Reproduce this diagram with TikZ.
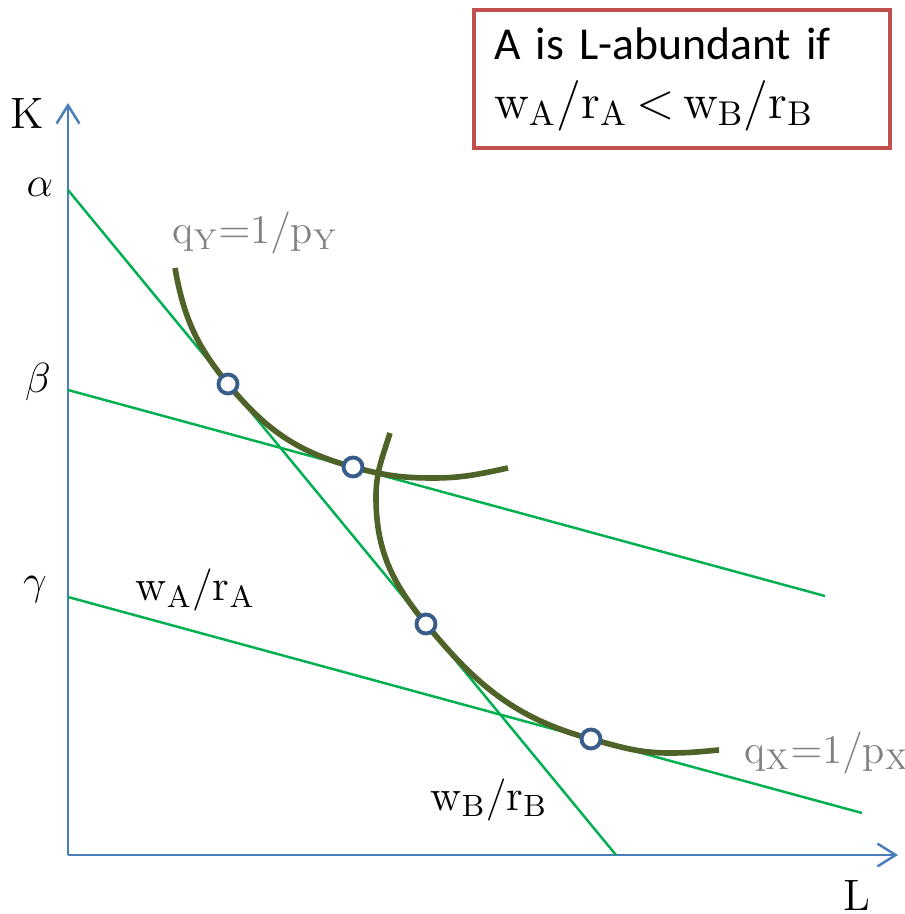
\documentclass[tikz,border=0pt,12pt]{standalone}
\usepackage{fontspec}
\newfontfamily\boxfont{Carlito}
\usepackage{tikz}
\usetikzlibrary{arrows.meta}
\definecolor{axisblue}{HTML}{4A7EBB}
\definecolor{budgetgreen}{HTML}{00B050}
\definecolor{isoolive}{HTML}{4F6228}
\definecolor{dotblue}{HTML}{385D8A}
\definecolor{boxred}{HTML}{C0504D}

\begin{document}
\begin{tikzpicture}[>={Straight Barb[length=5.2pt,width=6.5pt]},
  axis/.style={->, axisblue, line width=0.7pt},
  budget/.style={budgetgreen, line width=0.7pt},
  isoq/.style={isoolive, line width=1.6pt},
  tangency/.style={circle, draw=dotblue, fill=white, line width=1.1pt, inner sep=0pt, minimum size=0.19cm},
  lbl/.style={font=\fontsize{12.5}{15}\selectfont},
  qlbl/.style={text=gray, inner sep=0pt, anchor=base west, font=\fontsize{11.6}{14}\selectfont}]
  \useasboundingbox (-0.68,-0.59) rectangle (8.37,8.55);
  % axes
  \coordinate (O) at (0,0);
  \coordinate (Ktop) at (0,7.52);
  \coordinate (Lend) at (8.30,0);
  \draw[axis] (O) -- (Ktop);
  \draw[axis] (O) -- (Lend);
  \node[lbl] (K) at (-0.41,7.42) {K};
  \node[lbl] (L) at (7.89,-0.40) {L};
  % intercepts
  \node[lbl] (alpha) at (-0.28,6.68) {$\alpha$};
  \node[lbl] (beta)  at (-0.30,4.73) {$\beta$};
  \node[lbl] (gamma) at (-0.33,2.65) {$\gamma$};
  % isocost lines
  \coordinate (a0) at (0,6.65);
  \coordinate (a1) at (5.48,0);
  \coordinate (b0) at (0,4.65);
  \coordinate (b1) at (7.57,2.59);
  \coordinate (g0) at (0,2.58);
  \coordinate (g1) at (7.94,0.42);
  \draw[budget] (a0) -- (a1);
  \draw[budget] (b0) -- (b1);
  \draw[budget] (g0) -- (g1);
  % isoquants
  \draw[isoq] (1.07,5.87) to[out=-80,in=129.5] (1.60,4.71)
    to[out=-50.5,in=164.8] (2.85,3.88) to[out=-15.2,in=180] (3.65,3.77)
    to[out=0,in=-168] (4.40,3.87);
  \draw[isoq] (3.22,4.22) to[out=-107,in=90] (3.08,3.58)
    to[out=-90,in=129.5] (3.58,2.31) to[out=-50.5,in=164.8] (5.23,1.16)
    to[out=-15.2,in=180] (6.02,1.02) to[out=0,in=-175] (6.51,1.05);
  % tangency points
  \node[tangency] (e1) at (1.60,4.71) {};
  \node[tangency] (e2) at (2.85,3.88) {};
  \node[tangency] (e3) at (3.58,2.31) {};
  \node[tangency] (e4) at (5.23,1.16) {};
  % labels
  \node[qlbl] (qY) at (1.04,6.12) {$\mathrm{q_Y{=}1/p_Y}$};
  \node[qlbl] (qX) at (6.76,0.92) {$\mathrm{q_X{=}1/p_X}$};
  \node[lbl, inner sep=0pt, anchor=base west] (wA) at (0.67,2.55) {$\mathrm{w_A/r_A}$};
  \node[lbl, inner sep=0pt, anchor=base west] (wB) at (3.62,0.45) {$\mathrm{w_B/r_B}$};
  % condition box
  \node[draw=boxred, line width=1.2pt, anchor=north west, minimum width=4.16cm,
    minimum height=1.38cm, text width=3.76cm, inner xsep=0.2cm, align=left,
    font=\boxfont\fontsize{13}{16.8}\selectfont] (cond) at (4.04,8.47)
    {A is L-abundant if\\ \fontsize{14}{16.8}\selectfont$\mathrm{w_A/r_A}\,{<}\,\mathrm{w_B/r_B}$};
\end{tikzpicture}
\end{document}
